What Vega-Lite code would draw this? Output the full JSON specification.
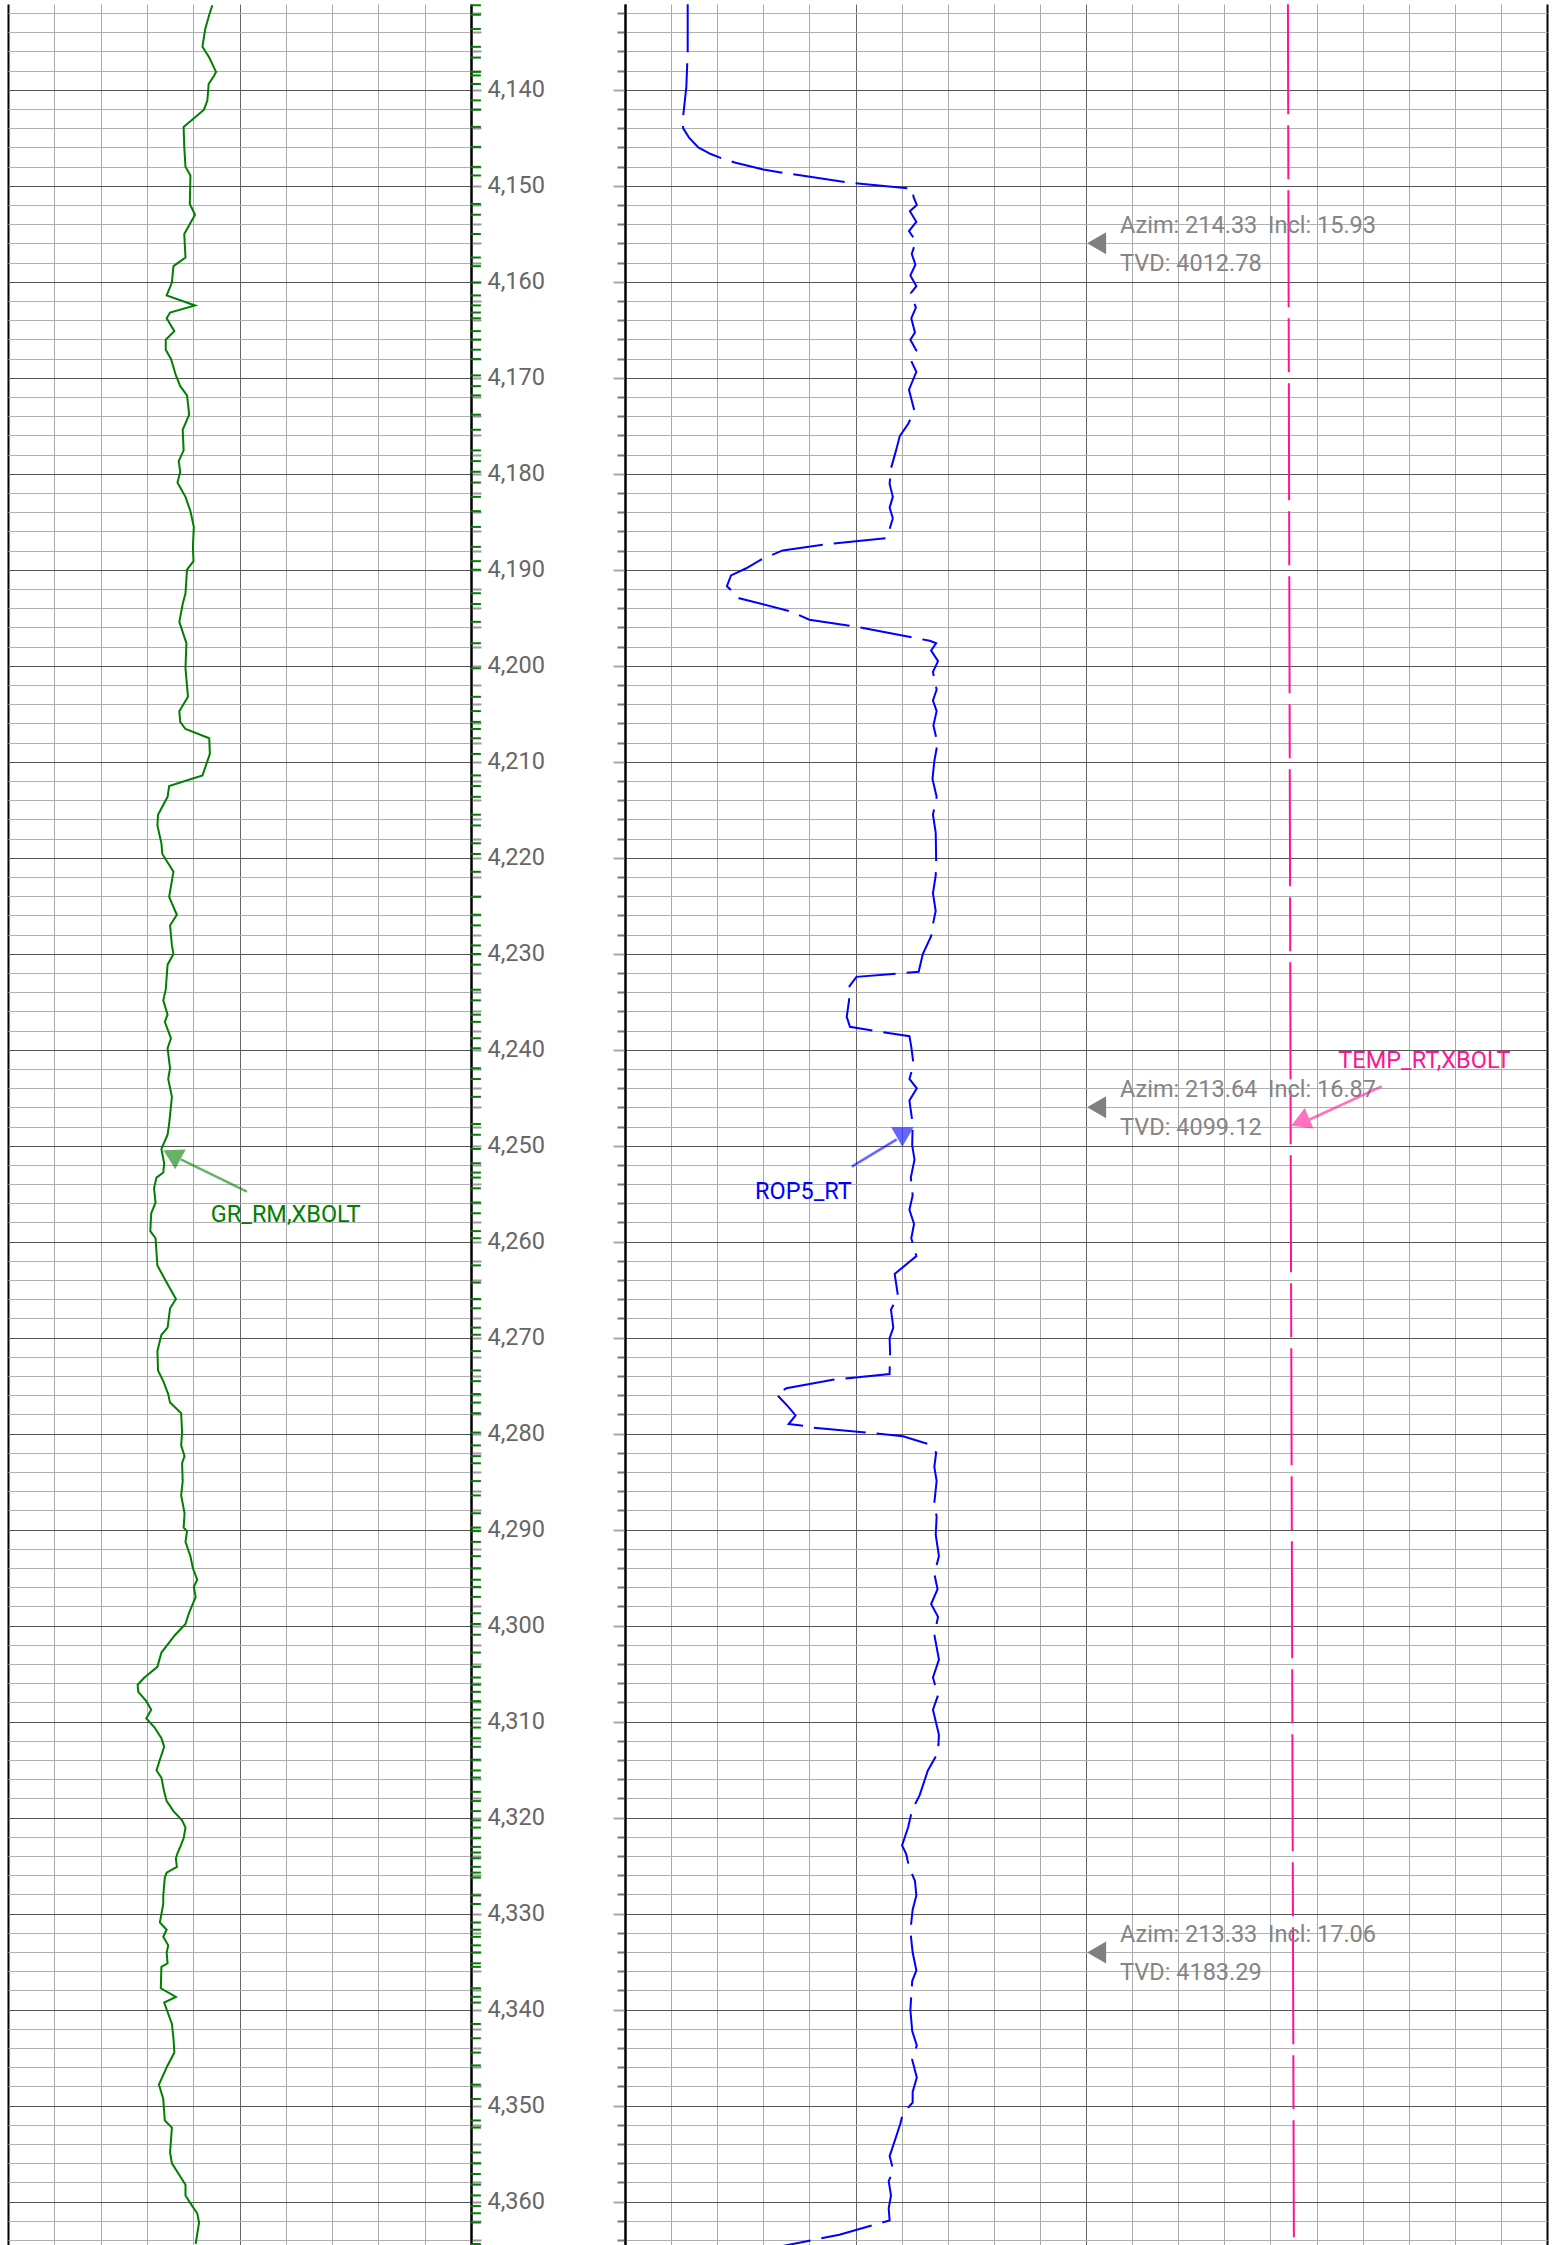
{
"$schema": "https://vega.github.io/schema/vega-lite/v6.json",
"padding": {"left": 8, "top": 0, "right": 12, "bottom": 0},
"background": "white",
"spacing": 154,
"bounds": "flush",
"config": {"view": {"stroke": null}, "font": "Roboto"},
"datasets": {
"gr": [
{"depth":4131.2,"gr":66.2},{"depth":4132.19,"gr":65.2},{"depth":4133.67,"gr":63.9},{"depth":4135.53,"gr":63.0},{"depth":4136.65,"gr":65.2},{"depth":4138.14,"gr":67.4},{"depth":4138.51,"gr":66.8},{"depth":4139.4,"gr":65.0},{"depth":4141.11,"gr":64.6},{"depth":4142.08,"gr":63.5},{"depth":4143.87,"gr":56.9},{"depth":4145.95,"gr":57.1},{"depth":4148.03,"gr":57.5},{"depth":4148.93,"gr":59.1},{"depth":4151.9,"gr":58.9},{"depth":4153.02,"gr":60.6},{"depth":4155.03,"gr":57.1},{"depth":4157.48,"gr":57.5},{"depth":4158.38,"gr":53.6},{"depth":4160.09,"gr":53.1},{"depth":4161.43,"gr":51.4},{"depth":4162.47,"gr":60.6},{"depth":4163.21,"gr":52.5},{"depth":4163.81,"gr":51.4},{"depth":4165.15,"gr":53.9},{"depth":4166.04,"gr":51.1},{"depth":4167.08,"gr":51.1},{"depth":4168.05,"gr":52.8},{"depth":4169.76,"gr":54.4},{"depth":4170.88,"gr":55.8},{"depth":4171.84,"gr":58.0},{"depth":4173.85,"gr":58.7},{"depth":4175.42,"gr":56.6},{"depth":4177.57,"gr":56.9},{"depth":4178.69,"gr":55.3},{"depth":4179.8,"gr":55.8},{"depth":4180.92,"gr":54.9},{"depth":4182.41,"gr":57.5},{"depth":4183.9,"gr":59.1},{"depth":4185.54,"gr":60.2},{"depth":4187.62,"gr":59.9},{"depth":4189.11,"gr":60.1},{"depth":4190.0,"gr":58.0},{"depth":4192.45,"gr":57.5},{"depth":4193.57,"gr":56.6},{"depth":4195.43,"gr":55.5},{"depth":4197.66,"gr":57.8},{"depth":4200.27,"gr":57.5},{"depth":4203.24,"gr":58.3},{"depth":4204.73,"gr":55.5},{"depth":4205.85,"gr":55.8},{"depth":4206.59,"gr":57.5},{"depth":4207.56,"gr":65.2},{"depth":4209.19,"gr":65.4},{"depth":4211.43,"gr":63.0},{"depth":4212.54,"gr":52.2},{"depth":4213.66,"gr":51.7},{"depth":4215.52,"gr":48.6},{"depth":4216.64,"gr":48.4},{"depth":4218.5,"gr":49.7},{"depth":4219.61,"gr":50.0},{"depth":4221.47,"gr":53.6},{"depth":4224.08,"gr":52.2},{"depth":4225.94,"gr":54.7},{"depth":4227.05,"gr":52.5},{"depth":4229.14,"gr":53.1},{"depth":4230.03,"gr":53.6},{"depth":4231.14,"gr":51.7},{"depth":4233.75,"gr":51.1},{"depth":4234.86,"gr":50.3},{"depth":4236.35,"gr":51.7},{"depth":4237.1,"gr":50.8},{"depth":4238.81,"gr":52.8},{"depth":4239.85,"gr":51.7},{"depth":4241.93,"gr":52.5},{"depth":4243.05,"gr":51.9},{"depth":4244.91,"gr":53.1},{"depth":4247.74,"gr":52.2},{"depth":4248.86,"gr":51.7},{"depth":4250.34,"gr":49.7},{"depth":4251.83,"gr":50.6},{"depth":4252.8,"gr":50.3},{"depth":4253.32,"gr":48.1},{"depth":4254.44,"gr":47.3},{"depth":4255.92,"gr":47.8},{"depth":4257.04,"gr":46.4},{"depth":4258.9,"gr":46.1},{"depth":4259.64,"gr":47.8},{"depth":4262.47,"gr":48.4},{"depth":4264.26,"gr":51.4},{"depth":4265.97,"gr":54.4},{"depth":4266.94,"gr":52.5},{"depth":4268.95,"gr":51.7},{"depth":4269.69,"gr":49.7},{"depth":4271.4,"gr":48.4},{"depth":4273.41,"gr":48.6},{"depth":4274.53,"gr":50.3},{"depth":4275.87,"gr":51.9},{"depth":4276.76,"gr":52.5},{"depth":4277.87,"gr":56.1},{"depth":4279.88,"gr":56.4},{"depth":4281.22,"gr":56.1},{"depth":4282.34,"gr":57.2},{"depth":4283.08,"gr":56.4},{"depth":4284.94,"gr":56.6},{"depth":4286.43,"gr":56.1},{"depth":4288.29,"gr":57.2},{"depth":4289.78,"gr":56.9},{"depth":4290.15,"gr":58.0},{"depth":4291.27,"gr":57.5},{"depth":4292.76,"gr":59.1},{"depth":4294.02,"gr":59.9},{"depth":4295.21,"gr":61.3},{"depth":4295.96,"gr":60.2},{"depth":4297.0,"gr":60.8},{"depth":4298.71,"gr":58.6},{"depth":4299.82,"gr":57.5},{"depth":4300.94,"gr":54.2},{"depth":4302.8,"gr":49.7},{"depth":4304.29,"gr":48.4},{"depth":4305.4,"gr":44.2},{"depth":4306.15,"gr":42.0},{"depth":4306.89,"gr":42.2},{"depth":4307.86,"gr":44.8},{"depth":4308.75,"gr":46.4},{"depth":4309.65,"gr":44.8},{"depth":4310.61,"gr":47.5},{"depth":4311.73,"gr":49.7},{"depth":4312.62,"gr":50.6},{"depth":4313.96,"gr":49.2},{"depth":4315.08,"gr":48.1},{"depth":4315.82,"gr":49.7},{"depth":4317.31,"gr":50.6},{"depth":4318.27,"gr":51.4},{"depth":4319.32,"gr":53.6},{"depth":4320.28,"gr":56.4},{"depth":4321.03,"gr":57.5},{"depth":4322.15,"gr":56.9},{"depth":4323.04,"gr":55.8},{"depth":4323.63,"gr":55.0},{"depth":4324.23,"gr":54.4},{"depth":4325.12,"gr":54.7},{"depth":4325.72,"gr":51.4},{"depth":4326.24,"gr":50.8},{"depth":4328.1,"gr":50.3},{"depth":4328.99,"gr":50.3},{"depth":4330.92,"gr":49.2},{"depth":4331.67,"gr":51.4},{"depth":4332.41,"gr":50.3},{"depth":4333.3,"gr":51.9},{"depth":4334.05,"gr":51.4},{"depth":4335.17,"gr":51.7},{"depth":4335.54,"gr":49.7},{"depth":4337.77,"gr":49.5},{"depth":4338.66,"gr":54.4},{"depth":4339.26,"gr":50.6},{"depth":4341.49,"gr":53.1},{"depth":4342.98,"gr":53.6},{"depth":4344.47,"gr":53.9},{"depth":4345.81,"gr":51.7},{"depth":4347.81,"gr":48.9},{"depth":4349.3,"gr":50.3},{"depth":4351.54,"gr":50.8},{"depth":4352.28,"gr":53.1},{"depth":4354.88,"gr":52.5},{"depth":4356.0,"gr":53.1},{"depth":4357.12,"gr":55.3},{"depth":4358.23,"gr":57.5},{"depth":4359.35,"gr":57.5},{"depth":4360.46,"gr":59.7},{"depth":4361.21,"gr":61.3},{"depth":4362.17,"gr":61.9},{"depth":4364.41,"gr":60.8}
],
"rop": [
{"depth":4131.1,"rop":13.6},{"depth":4136.1,"rop":13.6},{"depth":4139.75,"rop":13.3},{"depth":4141.5,"rop":12.9},{"depth":4142.8,"rop":12.6},{"depth":4144.0,"rop":12.6},{"depth":4145.0,"rop":13.9},{"depth":4146.0,"rop":15.9},{"depth":4146.7,"rop":18.6},{"depth":4147.2,"rop":21.3},{"depth":4147.6,"rop":24.0},{"depth":4148.3,"rop":30.0},{"depth":4148.7,"rop":34.7},{"depth":4148.95,"rop":38.7},{"depth":4149.7,"rop":48.8},{"depth":4150.3,"rop":62.3},{"depth":4151.2,"rop":62.6},{"depth":4152.0,"rop":63.3},{"depth":4152.65,"rop":61.8},{"depth":4153.76,"rop":63.2},{"depth":4154.73,"rop":61.6},{"depth":4155.77,"rop":63.1},{"depth":4157.11,"rop":62.2},{"depth":4158.23,"rop":63.0},{"depth":4159.34,"rop":61.9},{"depth":4160.46,"rop":63.2},{"depth":4161.2,"rop":62.0},{"depth":4162.69,"rop":63.1},{"depth":4163.81,"rop":62.1},{"depth":4165.3,"rop":62.9},{"depth":4166.04,"rop":61.9},{"depth":4167.16,"rop":63.2},{"depth":4168.27,"rop":62.1},{"depth":4169.39,"rop":63.2},{"depth":4171.25,"rop":61.6},{"depth":4173.48,"rop":62.8},{"depth":4174.82,"rop":61.4},{"depth":4176.08,"rop":59.6},{"depth":4177.57,"rop":58.8},{"depth":4179.43,"rop":57.7},{"depth":4181.07,"rop":57.4},{"depth":4182.41,"rop":58.1},{"depth":4183.53,"rop":57.4},{"depth":4184.64,"rop":58.1},{"depth":4185.76,"rop":57.4},{"depth":4186.72,"rop":56.7},{"depth":4187.39,"rop":42.9},{"depth":4187.99,"rop":34.2},{"depth":4188.96,"rop":29.5},{"depth":4189.85,"rop":26.3},{"depth":4190.59,"rop":23.0},{"depth":4191.71,"rop":22.1},{"depth":4192.97,"rop":24.8},{"depth":4194.31,"rop":35.7},{"depth":4195.21,"rop":40.0},{"depth":4195.95,"rop":50.2},{"depth":4197.14,"rop":63.2},{"depth":4197.4,"rop":66.1},{"depth":4197.66,"rop":67.5},{"depth":4198.41,"rop":66.4},{"depth":4199.52,"rop":67.9},{"depth":4200.64,"rop":66.8},{"depth":4202.5,"rop":67.6},{"depth":4203.62,"rop":66.8},{"depth":4204.73,"rop":67.6},{"depth":4206.22,"rop":66.9},{"depth":4208.08,"rop":67.8},{"depth":4209.94,"rop":67.1},{"depth":4211.8,"rop":66.7},{"depth":4213.66,"rop":67.6},{"depth":4215.52,"rop":66.8},{"depth":4217.38,"rop":67.4},{"depth":4220.36,"rop":67.5},{"depth":4221.84,"rop":67.4},{"depth":4223.7,"rop":66.8},{"depth":4225.56,"rop":67.4},{"depth":4226.68,"rop":66.9},{"depth":4228.17,"rop":66.4},{"depth":4230.03,"rop":64.6},{"depth":4231.89,"rop":63.7},{"depth":4232.11,"rop":58.1},{"depth":4232.41,"rop":50.2},{"depth":4233.38,"rop":48.7},{"depth":4234.86,"rop":48.6},{"depth":4236.58,"rop":48.1},{"depth":4237.62,"rop":48.8},{"depth":4238.07,"rop":54.5},{"depth":4238.59,"rop":61.7},{"depth":4239.7,"rop":62.1},{"depth":4241.56,"rop":62.6},{"depth":4243.05,"rop":61.7},{"depth":4244.02,"rop":63.3},{"depth":4245.28,"rop":61.7},{"depth":4247.74,"rop":62.4},{"depth":4249.97,"rop":62.3},{"depth":4251.46,"rop":62.8},{"depth":4253.32,"rop":62.0},{"depth":4255.18,"rop":62.4},{"depth":4256.67,"rop":61.7},{"depth":4258.16,"rop":62.7},{"depth":4259.64,"rop":62.1},{"depth":4261.5,"rop":63.2},{"depth":4263.36,"rop":58.5},{"depth":4265.6,"rop":59.2},{"depth":4267.09,"rop":57.7},{"depth":4268.95,"rop":58.2},{"depth":4270.06,"rop":57.4},{"depth":4271.55,"rop":57.5},{"depth":4273.78,"rop":57.4},{"depth":4274.38,"rop":45.1},{"depth":4275.27,"rop":35.0},{"depth":4275.87,"rop":32.8},{"depth":4277.13,"rop":35.3},{"depth":4278.1,"rop":37.0},{"depth":4278.99,"rop":35.5},{"depth":4279.14,"rop":38.2},{"depth":4279.36,"rop":40.7},{"depth":4279.88,"rop":52.3},{"depth":4280.26,"rop":60.3},{"depth":4281.07,"rop":65.7},{"depth":4281.97,"rop":67.5},{"depth":4283.45,"rop":67.1},{"depth":4284.94,"rop":67.6},{"depth":4287.17,"rop":67.1},{"depth":4288.66,"rop":67.6},{"depth":4290.52,"rop":67.4},{"depth":4292.75,"rop":68.1},{"depth":4294.61,"rop":67.1},{"depth":4296.2,"rop":67.8},{"depth":4297.74,"rop":66.4},{"depth":4299.08,"rop":67.9},{"depth":4300.94,"rop":67.1},{"depth":4303.54,"rop":68.1},{"depth":4305.4,"rop":66.8},{"depth":4307.26,"rop":67.9},{"depth":4308.75,"rop":66.8},{"depth":4311.36,"rop":68.1},{"depth":4313.21,"rop":67.9},{"depth":4315.08,"rop":65.7},{"depth":4317.68,"rop":63.9},{"depth":4319.17,"rop":62.3},{"depth":4321.03,"rop":61.4},{"depth":4322.89,"rop":60.1},{"depth":4323.78,"rop":61.0},{"depth":4325.12,"rop":61.6},{"depth":4326.6,"rop":62.9},{"depth":4328.1,"rop":63.2},{"depth":4329.58,"rop":62.4},{"depth":4331.82,"rop":61.9},{"depth":4334.05,"rop":62.4},{"depth":4335.91,"rop":63.2},{"depth":4337.02,"rop":62.3},{"depth":4340.0,"rop":61.9},{"depth":4342.23,"rop":62.3},{"depth":4343.72,"rop":63.3},{"depth":4345.21,"rop":62.3},{"depth":4347.07,"rop":63.3},{"depth":4348.56,"rop":62.4},{"depth":4349.67,"rop":62.4},{"depth":4350.79,"rop":60.3},{"depth":4351.91,"rop":59.7},{"depth":4353.39,"rop":58.7},{"depth":4355.25,"rop":57.4},{"depth":4356.74,"rop":58.2},{"depth":4357.86,"rop":57.2},{"depth":4359.35,"rop":57.7},{"depth":4360.68,"rop":57.2},{"depth":4361.95,"rop":57.4},{"depth":4363.44,"rop":46.5},{"depth":4365.5,"rop":25.0}
],
"temp": [
{"depth":4131.1,"temp":143.8},{"depth":4250.0,"temp":144.4},{"depth":4364.9,"temp":145.1}
],
"survey": [
{"depth":4156.0,"azim":"Azim: 214.33","incl":"Incl: 15.93","tvd":"TVD: 4012.78"},
{"depth":4246.0,"azim":"Azim: 213.64","incl":"Incl: 16.87","tvd":"TVD: 4099.12"},
{"depth":4334.04,"azim":"Azim: 213.33","incl":"Incl: 17.06","tvd":"TVD: 4183.29"}
]
},
"hconcat": [
{
"width": 463,
"height": 2245,
"layer": [
{
"data": {"name": "gr"},
"mark": {"type": "line", "color": "#008000", "strokeWidth": 2, "clip": true},
"encoding": {
"x": {"field": "gr", "type": "quantitative",
"scale": {"domain": [0, 150], "nice": false, "zero": false},
"axis": {"orient": "bottom", "values": [0,15,30,45,60,75,90,105,120,135,150], "tickCount": 100, "domain": false, "ticks": false, "labels": false, "title": null, "grid": true,
"gridColor": {"condition": [{"test": "datum.value === 0 || datum.value === 150", "value": "#000000"}, {"test": "datum.value === 75", "value": "#666666"}], "value": "#aaaaaa"},
"gridWidth": {"condition": {"test": "datum.value === 0 || datum.value === 150", "value": 2}, "value": 1}}},
"y": {"field": "depth", "type": "quantitative",
"scale": {"domain": [4131.07, 4364.93], "nice": false, "zero": false, "reverse": true},
"axis": {"orient": "right", "title": null, "tickCount": 500,
"values": [4132,4134,4136,4138,4140,4142,4144,4146,4148,4150,4152,4154,4156,4158,4160,4162,4164,4166,4168,4170,4172,4174,4176,4178,4180,4182,4184,4186,4188,4190,4192,4194,4196,4198,4200,4202,4204,4206,4208,4210,4212,4214,4216,4218,4220,4222,4224,4226,4228,4230,4232,4234,4236,4238,4240,4242,4244,4246,4248,4250,4252,4254,4256,4258,4260,4262,4264,4266,4268,4270,4272,4274,4276,4278,4280,4282,4284,4286,4288,4290,4292,4294,4296,4298,4300,4302,4304,4306,4308,4310,4312,4314,4316,4318,4320,4322,4324,4326,4328,4330,4332,4334,4336,4338,4340,4342,4344,4346,4348,4350,4352,4354,4356,4358,4360,4362,4364],
"domainColor": "#000000", "domainWidth": 2,
"tickColor": "#999999", "tickWidth": 2, "tickSize": 10,
"labelExpr": "datum.value % 10 === 0 ? format(datum.value, ',') : ''",
"labelOverlap": false, "labelFlush": false, "labelBound": false,
"labelFontSize": 23.5, "labelColor": "#666666", "labelPadding": 6, "labelFont": "Roboto",
"grid": true,
"gridColor": {"condition": {"test": "datum.value % 10 === 0", "value": "#555555"}, "value": "#b0b0b0"},
"gridWidth": 1}},
"order": {"field": "depth", "type": "quantitative"}
}
},
{
"data": {"name": "gr"},
"mark": {"type": "rule", "color": "#008000", "strokeWidth": 2},
"encoding": {
"x": {"datum": 150, "type": "quantitative"},
"x2": {"datum": 153.2},
"y": {"field": "depth", "type": "quantitative"}
}
},
{
"data": {"values": [{"label": "GR_RM,XBOLT"}]},
"layer": [
{"mark": {"type": "rule", "color": "#008000", "opacity": 0.6, "strokeWidth": 2.5},
"encoding": {"x": {"datum": 56.0, "type": "quantitative"}, "y": {"datum": 4251.43, "type": "quantitative"}, "x2": {"datum": 77.4}, "y2": {"datum": 4254.79}}},
{"mark": {"type": "point", "shape": "triangle-up", "filled": true, "color": "#008000", "opacity": 0.6, "size": 500, "angle": 298},
"encoding": {"x": {"datum": 53.1, "type": "quantitative"}, "y": {"datum": 4250.95, "type": "quantitative"}}},
{"mark": {"type": "text", "align": "left", "baseline": "middle", "fontSize": 23.5, "color": "#008000"},
"encoding": {"x": {"datum": 65.7, "type": "quantitative"}, "y": {"datum": 4257.2, "type": "quantitative"}, "text": {"field": "label"}}}
]
}
]
},
{
"width": 922,
"height": 2245,
"layer": [
{
"data": {"name": "rop"},
"mark": {"type": "line", "color": "#0000ff", "strokeWidth": 2, "strokeDash": [52, 11], "strokeDashOffset": 4, "clip": true},
"encoding": {
"x": {"field": "rop", "type": "quantitative",
"scale": {"domain": [0, 200], "nice": false, "zero": false},
"axis": {"orient": "bottom", "values": [0,10,20,30,40,50,60,70,80,90,100,110,120,130,140,150,160,170,180,190,200], "tickCount": 100, "domain": false, "ticks": false, "labels": false, "title": null, "grid": true,
"gridColor": {"condition": [{"test": "datum.value === 0 || datum.value === 200", "value": "#000000"}, {"test": "datum.value === 50 || datum.value === 100", "value": "#666666"}], "value": "#aaaaaa"},
"gridWidth": {"condition": {"test": "datum.value === 0 || datum.value === 200", "value": 2}, "value": 1}}},
"y": {"field": "depth", "type": "quantitative",
"scale": {"domain": [4131.07, 4364.93], "nice": false, "zero": false, "reverse": true},
"axis": {"orient": "left", "title": null, "tickCount": 500,
"values": [4132,4134,4136,4138,4140,4142,4144,4146,4148,4150,4152,4154,4156,4158,4160,4162,4164,4166,4168,4170,4172,4174,4176,4178,4180,4182,4184,4186,4188,4190,4192,4194,4196,4198,4200,4202,4204,4206,4208,4210,4212,4214,4216,4218,4220,4222,4224,4226,4228,4230,4232,4234,4236,4238,4240,4242,4244,4246,4248,4250,4252,4254,4256,4258,4260,4262,4264,4266,4268,4270,4272,4274,4276,4278,4280,4282,4284,4286,4288,4290,4292,4294,4296,4298,4300,4302,4304,4306,4308,4310,4312,4314,4316,4318,4320,4322,4324,4326,4328,4330,4332,4334,4336,4338,4340,4342,4344,4346,4348,4350,4352,4354,4356,4358,4360,4362,4364],
"domainColor": "#000000", "domainWidth": 2,
"tickColor": {"condition": {"test": "datum.value % 10 === 0", "value": "#aaaaaa"}, "value": "#777777"},
"tickWidth": 2,
"tickSize": {"condition": {"test": "datum.value % 10 === 0", "value": 12}, "value": 8},
"labels": false,
"grid": true,
"gridColor": {"condition": {"test": "datum.value % 10 === 0", "value": "#555555"}, "value": "#b0b0b0"},
"gridWidth": 1}},
"order": {"field": "depth", "type": "quantitative"}
}
},
{
"data": {"name": "temp"},
"mark": {"type": "line", "color": "#ff1493", "strokeWidth": 2, "strokeDash": [117, 11, 54, 11], "strokeDashOffset": 7, "clip": true},
"encoding": {
"x": {"field": "temp", "type": "quantitative"},
"y": {"field": "depth", "type": "quantitative"},
"order": {"field": "depth", "type": "quantitative"}
}
},
{
"data": {"name": "survey"},
"mark": {"type": "point", "shape": "triangle-left", "filled": true, "color": "#808080", "opacity": 1, "size": 484},
"encoding": {"x": {"datum": 102.3, "type": "quantitative"}, "y": {"field": "depth", "type": "quantitative"}}
},
{
"data": {"name": "survey"},
"mark": {"type": "text", "align": "left", "baseline": "middle", "fontSize": 23.5, "color": "#858585", "dy": -17.8},
"encoding": {"x": {"datum": 107.4, "type": "quantitative"}, "y": {"field": "depth", "type": "quantitative"}, "text": {"field": "azim"}}
},
{
"data": {"name": "survey"},
"mark": {"type": "text", "align": "left", "baseline": "middle", "fontSize": 23.5, "color": "#858585", "dy": -17.8},
"encoding": {"x": {"datum": 139.5, "type": "quantitative"}, "y": {"field": "depth", "type": "quantitative"}, "text": {"field": "incl"}}
},
{
"data": {"name": "survey"},
"mark": {"type": "text", "align": "left", "baseline": "middle", "fontSize": 23.5, "color": "#858585", "dy": 20.8},
"encoding": {"x": {"datum": 107.4, "type": "quantitative"}, "y": {"field": "depth", "type": "quantitative"}, "text": {"field": "tvd"}}
},
{
"data": {"values": [{"label": "ROP5_RT"}]},
"layer": [
{"mark": {"type": "rule", "color": "#0000ff", "opacity": 0.6, "strokeWidth": 2.5},
"encoding": {"x": {"datum": 49.18, "type": "quantitative"}, "y": {"datum": 4252.18, "type": "quantitative"}, "x2": {"datum": 58.94}, "y2": {"datum": 4249.34}}},
{"mark": {"type": "point", "shape": "triangle-down", "filled": true, "color": "#0000ff", "opacity": 0.6, "size": 500},
"encoding": {"x": {"datum": 60.17, "type": "quantitative"}, "y": {"datum": 4249.09, "type": "quantitative"}}},
{"mark": {"type": "text", "align": "left", "baseline": "middle", "fontSize": 23.5, "color": "#0000ff"},
"encoding": {"x": {"datum": 28.2, "type": "quantitative"}, "y": {"datum": 4254.8, "type": "quantitative"}, "text": {"field": "label"}}}
]
},
{
"data": {"values": [{"label": "TEMP_RT,XBOLT"}]},
"layer": [
{"mark": {"type": "rule", "color": "#ff1493", "opacity": 0.6, "strokeWidth": 2.5},
"encoding": {"x": {"datum": 164.14, "type": "quantitative"}, "y": {"datum": 4243.81, "type": "quantitative"}, "x2": {"datum": 148.52}, "y2": {"datum": 4247.27}}},
{"mark": {"type": "point", "shape": "triangle-up", "filled": true, "color": "#ff1493", "opacity": 0.6, "size": 500, "angle": 247},
"encoding": {"x": {"datum": 146.46, "type": "quantitative"}, "y": {"datum": 4247.54, "type": "quantitative"}}},
{"mark": {"type": "text", "align": "left", "baseline": "middle", "fontSize": 23.5, "color": "#ff1493"},
"encoding": {"x": {"datum": 154.73, "type": "quantitative"}, "y": {"datum": 4241.17, "type": "quantitative"}, "text": {"field": "label"}}}
]
}
]
}
]
}
